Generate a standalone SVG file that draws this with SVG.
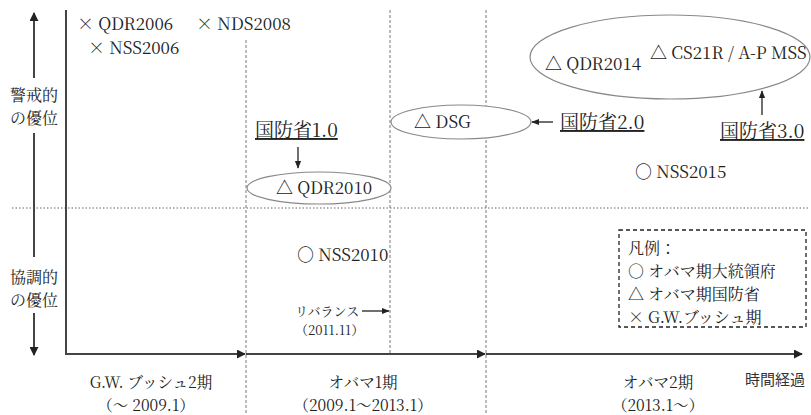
<svg xmlns="http://www.w3.org/2000/svg" width="811" height="415" viewBox="0 0 811 415">
<defs>
<marker id="ah" viewBox="0 0 10 10" refX="9" refY="5" markerWidth="4.5" markerHeight="4.5" orient="auto" markerUnits="strokeWidth">
<path d="M0,0 L10,5 L0,10 Z" fill="#222"/>
</marker>
<marker id="ahs" viewBox="0 0 10 10" refX="9" refY="5" markerWidth="6" markerHeight="6" orient="auto" markerUnits="strokeWidth">
<path d="M0,1 L10,5 L0,9 Z" fill="#222"/>
</marker>
</defs>
<style>
text{font-family:'Noto Serif CJK JP',serif;fill:#222;font-size:16px}
.m{font-size:17px}
.p{font-size:15.5px}
.big{font-size:19px;text-decoration:underline}
.sm{font-size:13px}
.g{font-family:'Noto Sans CJK JP',sans-serif;font-size:15px;fill:#333}
.ax{stroke:#444;stroke-width:2;fill:none}
.thin{stroke:#222;stroke-width:1.3;fill:none}
.dash{stroke:#555;stroke-width:0.8;stroke-dasharray:3,2;fill:none}
.dot{stroke:#666;stroke-width:1;stroke-dasharray:1.5,2;fill:none}
.ell{fill:#fff;stroke:#888;stroke-width:1.2}
</style>
<rect width="811" height="415" fill="#fff"/>
<g id="grid">
<line class="dot" x1="12" y1="208" x2="808" y2="208"/>
<line class="dash" x1="246" y1="40" x2="246" y2="415"/>
<line class="dash" x1="390" y1="10" x2="390" y2="354" stroke-dasharray="6,2,1,2"/>
<line class="dash" x1="486" y1="10" x2="486" y2="415"/>
</g>
<g id="axes">
<line class="ax" x1="66" y1="10" x2="66" y2="355"/>
<line class="ax" x1="66" y1="354" x2="245" y2="354" marker-end="url(#ah)"/>
<line class="ax" x1="246" y1="354" x2="485" y2="354" marker-end="url(#ah)"/>
<line class="ax" x1="486" y1="354" x2="802" y2="354" marker-end="url(#ah)"/>
<line class="ax" x1="34" y1="78" x2="34" y2="13" marker-end="url(#ah)"/>
<line class="ax" x1="34" y1="133" x2="34" y2="257"/>
<line class="ax" x1="34" y1="313" x2="34" y2="355" marker-end="url(#ah)"/>
</g>
<g id="ylabels">
<text x="34" y="101" text-anchor="middle">警戒的</text>
<text x="34" y="124" text-anchor="middle">の優位</text>
<text x="34" y="283" text-anchor="middle">協調的</text>
<text x="34" y="306" text-anchor="middle">の優位</text>
</g>
<g id="bush">
<text class="m" x="77" y="30">× QDR2006</text>
<text class="m" x="196" y="30">× NDS2008</text>
<text class="m" x="88" y="54">× NSS2006</text>
</g>
<g id="qdr2010">
<ellipse class="ell" cx="319" cy="188" rx="72" ry="16"/>
<text class="m" x="276" y="194">△ QDR2010</text>
</g>
<g id="dod1">
<text x="255" y="137" class="big">国防省1.0</text>
</g>
<g id="dsg">
<ellipse class="ell" cx="461" cy="122" rx="70" ry="17"/>
<text class="m" x="414" y="128">△ DSG</text>
</g>
<g id="dod2">
<text x="560" y="129" class="big">国防省2.0</text>
</g>
<g id="big3">
<ellipse class="ell" cx="670" cy="57" rx="140" ry="42"/>
<text class="m" x="545" y="70">△ QDR2014</text>
<text class="m" x="650" y="59">△ CS21R / A-P MSS</text>
</g>
<g id="dod3">
<text x="720" y="138" class="big">国防省3.0</text>
</g>
<g id="nss2015">
<text class="m" x="635" y="178">○ NSS2015</text>
</g>
<g id="nss2010">
<text class="m" x="297" y="261">○ NSS2010</text>
</g>
<g id="rebalance">
<text x="295" y="316" class="sm">リバランス</text>
<text x="295" y="335" class="sm">（2011.11）</text>
</g>
<g id="legend">
<rect x="619" y="230" width="187" height="97" fill="none" stroke="#222" stroke-width="1.3" stroke-dasharray="4,3"/>
<text x="628" y="254">凡例：</text>
<text x="628" y="277">○ オバマ期大統領府</text>
<text x="628" y="300">△ オバマ期国防省</text>
<text x="628" y="323">× G.W.ブッシュ期</text>
</g>
<g id="periods">
<text class="p" x="151" y="388" text-anchor="middle">G.W. ブッシュ2期</text>
<text class="p" x="146" y="411" text-anchor="middle">（～ 2009.1）</text>
<text class="p" x="363" y="388" text-anchor="middle">オバマ1期</text>
<text class="p" x="363" y="411" text-anchor="middle">（2009.1～2013.1）</text>
<text class="p" x="658" y="388" text-anchor="middle">オバマ2期</text>
<text class="p" x="658" y="411" text-anchor="middle">（2013.1～）</text>
<text class="g" x="745" y="385">時間経過</text>
</g>
<g id="connectors">
<line class="thin" x1="298" y1="147" x2="298" y2="168" marker-end="url(#ahs)"/>
<line class="thin" x1="553" y1="122" x2="532" y2="122" marker-end="url(#ahs)"/>
<line class="thin" x1="762" y1="115" x2="762" y2="91" marker-end="url(#ahs)"/>
<line class="thin" x1="362" y1="311" x2="389" y2="311" marker-end="url(#ahs)"/>
</g>
</svg>
